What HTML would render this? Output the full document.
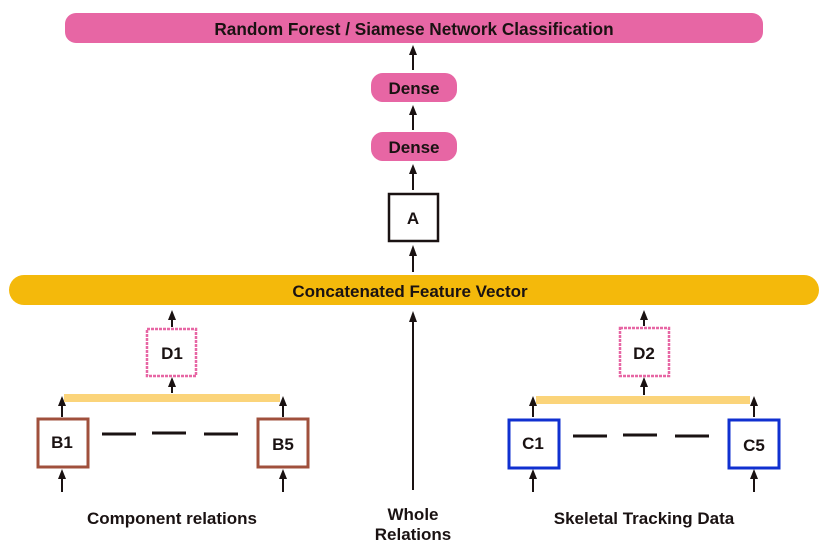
<!DOCTYPE html>
<html><head><meta charset="utf-8"><style>
html,body{margin:0;padding:0;background:#fff;}
svg{display:block;}
text{font-family:"Liberation Sans",sans-serif;font-weight:bold;fill:#1a1212;text-anchor:middle;}
</style></head><body>
<svg width="831" height="560" viewBox="0 0 831 560" xmlns="http://www.w3.org/2000/svg">
<g stroke="#1a1212" stroke-width="2" fill="none">
<line x1="413" y1="70" x2="413" y2="52"/>
<line x1="413" y1="130" x2="413" y2="112"/>
<line x1="413" y1="190" x2="413" y2="171"/>
<line x1="413" y1="272" x2="413" y2="253"/>
<line x1="413" y1="490" x2="413" y2="320"/>
<line x1="172" y1="327" x2="172" y2="318"/>
<line x1="172" y1="393" x2="172" y2="384"/>
<line x1="62" y1="417" x2="62" y2="403"/>
<line x1="62" y1="492" x2="62" y2="476"/>
<line x1="283" y1="417" x2="283" y2="403"/>
<line x1="283" y1="492" x2="283" y2="476"/>
<line x1="644" y1="326" x2="644" y2="318"/>
<line x1="644" y1="395" x2="644" y2="384"/>
<line x1="533" y1="417" x2="533" y2="403"/>
<line x1="533" y1="492" x2="533" y2="476"/>
<line x1="754" y1="417" x2="754" y2="403"/>
<line x1="754" y1="492" x2="754" y2="476"/>
</g>
<g fill="#1a1212">
<path d="M409,55 L413,45 L417,55Z"/>
<path d="M409,115 L413,105 L417,115Z"/>
<path d="M409,174 L413,164 L417,174Z"/>
<path d="M409,256 L413,245 L417,256Z"/>
<path d="M409,322 L413,311 L417,322Z"/>
<path d="M168,320 L172,310 L176,320Z"/>
<path d="M168,387 L172,377 L176,387Z"/>
<path d="M58,406 L62,396 L66,406Z"/>
<path d="M58,479 L62,469 L66,479Z"/>
<path d="M279,406 L283,396 L287,406Z"/>
<path d="M279,479 L283,469 L287,479Z"/>
<path d="M640,320 L644,310 L648,320Z"/>
<path d="M640,387 L644,377 L648,387Z"/>
<path d="M529,406 L533,396 L537,406Z"/>
<path d="M529,479 L533,469 L537,479Z"/>
<path d="M750,406 L754,396 L758,406Z"/>
<path d="M750,479 L754,469 L758,479Z"/>
</g>
<rect x="65" y="13" width="698" height="30" rx="11" fill="#e766a4"/>
<text x="414" y="35" font-size="17.2">Random Forest / Siamese Network Classification</text>
<rect x="371" y="73" width="86" height="29" rx="12" fill="#e766a4"/>
<text x="414" y="94" font-size="17">Dense</text>
<rect x="371" y="132" width="86" height="29" rx="12" fill="#e766a4"/>
<text x="414" y="153" font-size="17">Dense</text>
<rect x="389" y="194" width="49" height="47" fill="#fff" stroke="#1a1212" stroke-width="2.5"/>
<text x="413" y="224" font-size="17">A</text>
<rect x="9" y="275" width="810" height="30" rx="15" fill="#f4b90b"/>
<text x="410" y="297" font-size="17">Concatenated Feature Vector</text>
<rect x="147" y="329" width="49" height="47" fill="#fff" stroke="#e766a4" stroke-width="2.5" stroke-dasharray="3 1"/>
<text x="172" y="359" font-size="17">D1</text>
<rect x="620" y="328" width="49" height="48" fill="#fff" stroke="#e766a4" stroke-width="2.5" stroke-dasharray="3 1"/>
<text x="644" y="359" font-size="17">D2</text>
<rect x="64" y="394" width="216" height="8" fill="#fbd47a"/>
<rect x="536" y="396" width="214" height="8" fill="#fbd47a"/>
<rect x="38" y="419" width="50" height="48" fill="#fff" stroke="#a0503c" stroke-width="3"/>
<text x="62" y="448" font-size="17">B1</text>
<rect x="258" y="419" width="50" height="48" fill="#fff" stroke="#a0503c" stroke-width="3"/>
<text x="283" y="450" font-size="17">B5</text>
<rect x="509" y="420" width="50" height="48" fill="#fff" stroke="#1030d0" stroke-width="3"/>
<text x="533" y="449" font-size="17">C1</text>
<rect x="729" y="420" width="50" height="48" fill="#fff" stroke="#1030d0" stroke-width="3"/>
<text x="754" y="451" font-size="17">C5</text>
<g stroke="#1a1212" stroke-width="3">
<line x1="102" y1="434" x2="136" y2="434"/>
<line x1="152" y1="433" x2="186" y2="433"/>
<line x1="204" y1="434" x2="238" y2="434"/>
<line x1="573" y1="436" x2="607" y2="436"/>
<line x1="623" y1="435" x2="657" y2="435"/>
<line x1="675" y1="436" x2="709" y2="436"/>
</g>
<text x="172" y="524" font-size="17">Component relations</text>
<text x="644" y="524" font-size="17">Skeletal Tracking Data</text>
<text x="413" y="520" font-size="17">Whole</text>
<text x="413" y="540" font-size="17">Relations</text>
</svg>
</body></html>
